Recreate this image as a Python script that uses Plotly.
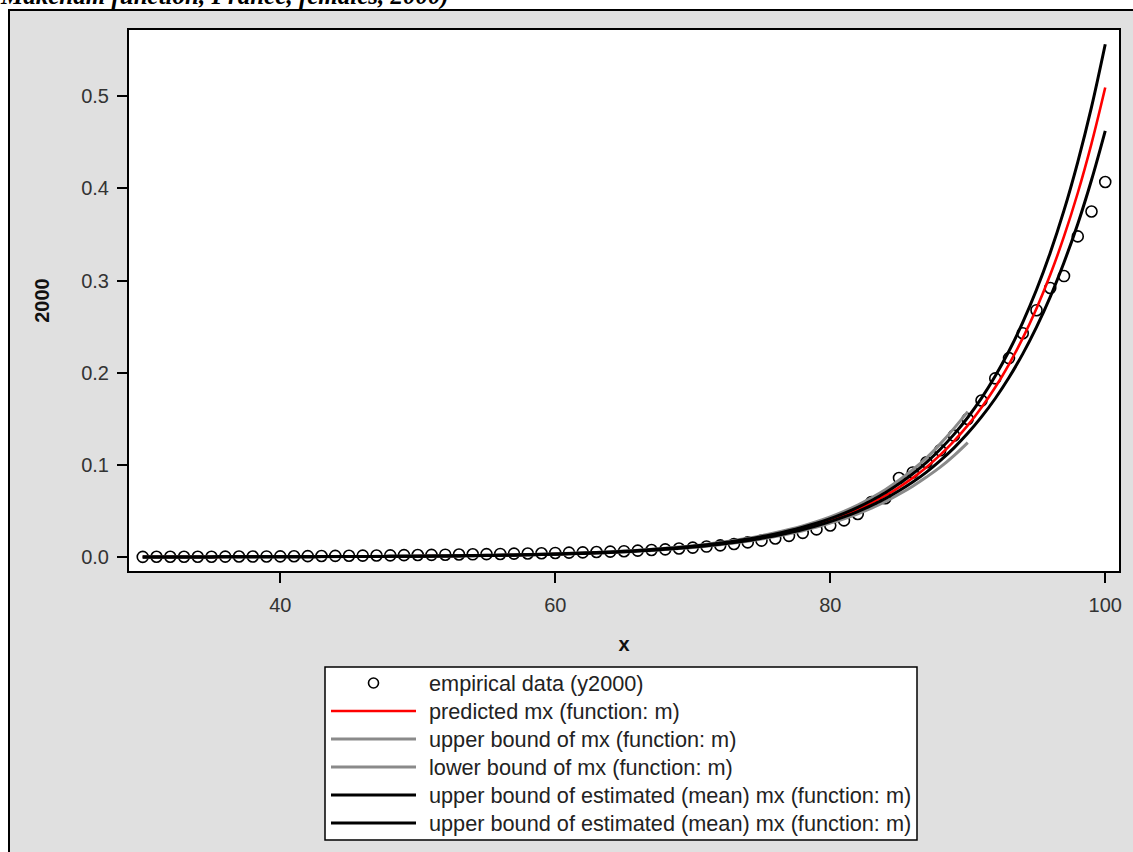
import plotly.graph_objects as go

# ---------------- data ----------------
ages = list(range(30, 101))

empirical = [0.0004, 0.0005, 0.0005, 0.0005, 0.0006, 0.0006, 0.0007, 0.0008, 0.0008, 0.0009,
             0.0010, 0.0011, 0.0012, 0.0014, 0.0015, 0.0016, 0.0018, 0.0019, 0.0021, 0.0023,
             0.0025, 0.0026, 0.0028, 0.0030, 0.0032, 0.0034, 0.0036, 0.0039, 0.0041, 0.0044,
             0.0047, 0.0050, 0.0053, 0.0057, 0.0061, 0.0066, 0.0072, 0.0079, 0.0086, 0.0095,
             0.0105, 0.0116, 0.0129, 0.0144, 0.0161, 0.0180, 0.0204, 0.0232, 0.0265, 0.0302,
             0.0345, 0.0400, 0.0470, 0.0600, 0.0640, 0.0860, 0.0920, 0.1030, 0.1160, 0.1320,
             0.1500, 0.1700, 0.1940, 0.2160, 0.2430, 0.2680, 0.2920, 0.3050, 0.3480, 0.3750,
             0.4070]

predicted = [0.0004, 0.0004, 0.0004, 0.0004, 0.0004, 0.0004, 0.0005, 0.0005, 0.0005, 0.0005,
             0.0006, 0.0006, 0.0006, 0.0007, 0.0007, 0.0008, 0.0008, 0.0009, 0.0010, 0.0011,
             0.0012, 0.0013, 0.0014, 0.0016, 0.0018, 0.0020, 0.0022, 0.0024, 0.0027, 0.0031,
             0.0034, 0.0039, 0.0044, 0.0049, 0.0055, 0.0062, 0.0070, 0.0080, 0.0090, 0.0102,
             0.0115, 0.0130, 0.0148, 0.0167, 0.0189, 0.0215, 0.0243, 0.0276, 0.0313, 0.0355,
             0.0403, 0.0457, 0.0519, 0.0589, 0.0668, 0.0759, 0.0861, 0.0977, 0.1110, 0.1260,
             0.1430, 0.1624, 0.1844, 0.2093, 0.2377, 0.2699, 0.3064, 0.3480, 0.3951, 0.4487,
             0.5095]

ages_pi = list(range(30, 91))

upper_mx = [0.0004, 0.0004, 0.0004, 0.0004, 0.0004, 0.0004, 0.0005, 0.0005, 0.0005, 0.0005,
            0.0007, 0.0007, 0.0007, 0.0008, 0.0008, 0.0009, 0.0009, 0.0010, 0.0011, 0.0012,
            0.0013, 0.0014, 0.0015, 0.0017, 0.0020, 0.0022, 0.0024, 0.0026, 0.0029, 0.0034,
            0.0037, 0.0043, 0.0048, 0.0053, 0.0060, 0.0068, 0.0076, 0.0087, 0.0098, 0.0111,
            0.0125, 0.0142, 0.0161, 0.0182, 0.0206, 0.0234, 0.0265, 0.0301, 0.0341, 0.0387,
            0.0439, 0.0499, 0.0567, 0.0645, 0.0733, 0.0835, 0.0949, 0.1078, 0.1230, 0.1398,
            0.1580]

lower_mx = [0.0004, 0.0004, 0.0004, 0.0004, 0.0004, 0.0004, 0.0005, 0.0005, 0.0005, 0.0005,
            0.0006, 0.0006, 0.0006, 0.0006, 0.0006, 0.0007, 0.0007, 0.0008, 0.0009, 0.0010,
            0.0011, 0.0012, 0.0013, 0.0015, 0.0017, 0.0018, 0.0020, 0.0022, 0.0025, 0.0029,
            0.0031, 0.0036, 0.0040, 0.0045, 0.0051, 0.0057, 0.0064, 0.0074, 0.0083, 0.0094,
            0.0106, 0.0120, 0.0136, 0.0154, 0.0174, 0.0198, 0.0224, 0.0254, 0.0288, 0.0327,
            0.0371, 0.0418, 0.0472, 0.0533, 0.0602, 0.0683, 0.0771, 0.0870, 0.0977, 0.1103,
            0.1244]

upper_mean = [0.0004, 0.0004, 0.0004, 0.0004, 0.0004, 0.0004, 0.0005, 0.0005, 0.0005, 0.0005,
              0.0006, 0.0006, 0.0006, 0.0007, 0.0007, 0.0008, 0.0008, 0.0009, 0.0010, 0.0011,
              0.0012, 0.0014, 0.0015, 0.0017, 0.0019, 0.0021, 0.0023, 0.0025, 0.0028, 0.0032,
              0.0035, 0.0041, 0.0046, 0.0051, 0.0057, 0.0064, 0.0073, 0.0083, 0.0094, 0.0106,
              0.0120, 0.0135, 0.0154, 0.0174, 0.0197, 0.0224, 0.0253, 0.0287, 0.0326, 0.0369,
              0.0419, 0.0476, 0.0542, 0.0616, 0.0700, 0.0797, 0.0906, 0.1030, 0.1172, 0.1333,
              0.1516, 0.1726, 0.1966, 0.2237, 0.2548, 0.2901, 0.3303, 0.3762, 0.4287, 0.4882,
              0.5564]

lower_mean = [0.0004, 0.0004, 0.0004, 0.0004, 0.0004, 0.0004, 0.0005, 0.0005, 0.0005, 0.0005,
              0.0006, 0.0006, 0.0006, 0.0007, 0.0007, 0.0008, 0.0008, 0.0009, 0.0010, 0.0011,
              0.0012, 0.0012, 0.0013, 0.0015, 0.0017, 0.0019, 0.0021, 0.0023, 0.0026, 0.0030,
              0.0033, 0.0037, 0.0042, 0.0047, 0.0053, 0.0060, 0.0067, 0.0077, 0.0086, 0.0098,
              0.0110, 0.0125, 0.0142, 0.0160, 0.0181, 0.0206, 0.0233, 0.0265, 0.0300, 0.0341,
              0.0387, 0.0438, 0.0496, 0.0562, 0.0636, 0.0721, 0.0816, 0.0924, 0.1048, 0.1187,
              0.1344, 0.1522, 0.1722, 0.1949, 0.2206, 0.2497, 0.2825, 0.3198, 0.3615, 0.4092,
              0.4626]

x_ticks = [40, 60, 80, 100]
y_ticks = [0.0, 0.1, 0.2, 0.3, 0.4, 0.5]

legend_labels = ["empirical data (y2000)",
                 "predicted mx (function: m)",
                 "upper bound of mx (function: m)",
                 "lower bound of mx (function: m)",
                 "upper bound of estimated (mean) mx (function: m)",
                 "upper bound of estimated (mean) mx (function: m)"]

title_text = "Makeham function, France, females, 2000)"

# ---------------- layout geometry (pixels) ----------------
W, H = 1133, 852
ML, MT, MR, MB = 129, 30, 14, 281
PW = W - ML - MR
PH = H - MT - MB


def px(xp):
    """window x pixel -> paper x"""
    return (xp - ML) / PW


def py(yp):
    """window y pixel -> paper y"""
    return (H - MB - yp) / PH


FONT = "Liberation Sans, Arial, sans-serif"
RED = "#ff0000"
GRAY = "#8a8a8a"
BLACK = "#000000"

fig = go.Figure()

fig.add_trace(go.Scatter(x=ages, y=empirical, mode="markers", name=legend_labels[0],
                         marker=dict(symbol="circle-open", size=11, color=BLACK,
                                     line=dict(width=1.6, color=BLACK)),
                         showlegend=False))
fig.add_trace(go.Scatter(x=ages, y=predicted, mode="lines", name=legend_labels[1],
                         line=dict(color=RED, width=2.6, shape="spline"), showlegend=False))
fig.add_trace(go.Scatter(x=ages_pi, y=upper_mx, mode="lines", name=legend_labels[2],
                         line=dict(color=GRAY, width=3, shape="spline"), showlegend=False))
fig.add_trace(go.Scatter(x=ages_pi, y=lower_mx, mode="lines", name=legend_labels[3],
                         line=dict(color=GRAY, width=3, shape="spline"), showlegend=False))
fig.add_trace(go.Scatter(x=ages, y=upper_mean, mode="lines", name=legend_labels[4],
                         line=dict(color=BLACK, width=3, shape="spline"), showlegend=False))
fig.add_trace(go.Scatter(x=ages, y=lower_mean, mode="lines", name=legend_labels[5],
                         line=dict(color=BLACK, width=3, shape="spline"), showlegend=False))

shapes = []
annotations = []

# outer gray panel
shapes.append(dict(type="rect", xref="paper", yref="paper", layer="below",
                   x0=px(9), x1=px(W + 30), y0=py(10), y1=py(H + 30),
                   fillcolor="#e0e0e0", line=dict(color="#000000", width=2)))
# plot background
shapes.append(dict(type="rect", xref="paper", yref="paper", layer="below",
                   x0=0, x1=1, y0=0, y1=1, fillcolor="#ffffff", line=dict(width=0)))

# manual legend
LX0, LX1, LY0, LY1 = 325, 917, 667, 840
shapes.append(dict(type="rect", xref="paper", yref="paper",
                   x0=px(LX0), x1=px(LX1), y0=py(LY0), y1=py(LY1),
                   fillcolor="#ffffff", line=dict(color="#000000", width=1.5)))
row_y = [683, 711, 739, 767, 795, 823]
sym_x0, sym_x1, text_x = 331, 416, 427
sym_colors = [None, RED, GRAY, GRAY, BLACK, BLACK]
for i, lab in enumerate(legend_labels):
    yy = row_y[i]
    if i == 0:
        cx = (sym_x0 + sym_x1) / 2
        shapes.append(dict(type="circle", xref="paper", yref="paper",
                           x0=px(cx - 5), x1=px(cx + 5), y0=py(yy + 5), y1=py(yy - 5),
                           line=dict(color=BLACK, width=1.6)))
    else:
        shapes.append(dict(type="line", xref="paper", yref="paper",
                           x0=px(sym_x0), x1=px(sym_x1), y0=py(yy), y1=py(yy),
                           line=dict(color=sym_colors[i], width=3 if i != 1 else 2.6)))
    annotations.append(dict(text=lab, xref="paper", yref="paper", x=px(text_x), y=py(yy),
                            xanchor="left", yanchor="middle", showarrow=False,
                            font=dict(family=FONT, size=21.7, color="#222222")))

# title, cut off by the top edge of the picture
annotations.append(dict(text="<b><i>" + title_text + "</i></b>", xref="paper", yref="paper",
                        x=px(-2), y=py(12), xanchor="left", yanchor="bottom", showarrow=False,
                        font=dict(family="Liberation Serif, Times New Roman, serif", size=25,
                                  color="#000000")))

fig.update_layout(
    width=W, height=H,
    margin=dict(l=ML, r=MR, t=MT, b=MB, pad=0),
    paper_bgcolor="#ffffff",
    plot_bgcolor="rgba(0,0,0,0)",
    showlegend=False,
    shapes=shapes,
    annotations=annotations,
    font=dict(family=FONT, color="#333333"),
)

fig.update_xaxes(range=[29.0, 101.0], tickvals=x_ticks, ticks="outside", ticklen=10,
                 tickwidth=1.5, tickcolor="#000000", showline=True, linecolor="#000000",
                 linewidth=2, mirror=True, showgrid=False, zeroline=False,
                 tickfont=dict(family=FONT, size=20, color="#333333"), ticklabelstandoff=5,
                 title=dict(text="<b>x</b>", font=dict(family=FONT, size=20, color="#111111"),
                            standoff=22))
fig.update_yaxes(range=[-0.0149, 0.5719], tickvals=y_ticks, tickformat=".1f", ticks="outside",
                 ticklen=10, tickwidth=1.5, tickcolor="#000000", showline=True,
                 linecolor="#000000", linewidth=2, mirror=True, showgrid=False, zeroline=False,
                 tickfont=dict(family=FONT, size=20, color="#333333"), ticklabelstandoff=4,
                 title=dict(text="<b>2000</b>", font=dict(family=FONT, size=20, color="#111111"),
                            standoff=26))

fig.write_html("out.html",
               config={"displayModeBar": False},
               post_script="document.body.style.margin='0px';"
                           "document.body.style.overflow='hidden';")
